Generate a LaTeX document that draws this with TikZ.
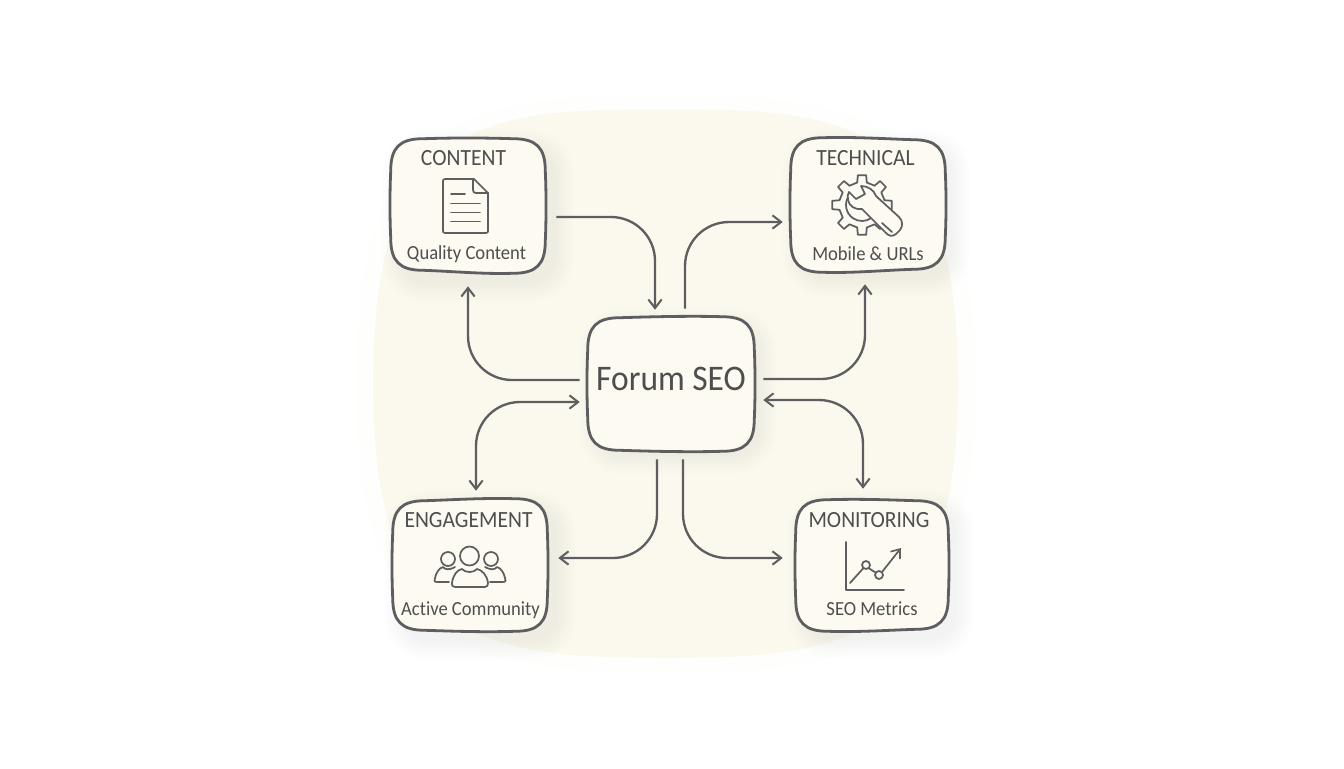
\documentclass[tikz,border=0pt]{standalone}
\usepackage{fontspec}
\setmainfont[FakeStretch=0.93,Ligatures=CommonOff]{Carlito}
\usetikzlibrary{arrows.meta}
\definecolor{blobc}{HTML}{FBF8EE}
\definecolor{boxc}{HTML}{FCFAF1}
\definecolor{inkc}{HTML}{5E5E60}
\definecolor{textc}{HTML}{4E4E4E}
\tikzset{
  anchorbox/.style={rectangle,inner sep=0pt,minimum width=#1*0.75pt},
  conn/.style={draw=inkc,line width=1.75pt,rounded corners=33pt,-{Straight Barb[length=6.5pt,width=10pt,line width=1.5pt]}},
  connboth/.style={conn,{Straight Barb[length=6.5pt,width=10pt,line width=1.5pt]}-{Straight Barb[length=6.5pt,width=10pt,line width=1.5pt]}},
  boxline/.style={draw=inkc,line width=2.1pt,fill=boxc},
  icon/.style={draw=inkc,line width=1.3pt,line join=round,line cap=round},
  title/.style={text=textc,font=\fontsize{17.4pt}{20pt}\selectfont,inner sep=0pt,anchor=base},
  sub/.style={text=textc,font=\fontsize{15pt}{20pt}\selectfont,inner sep=0pt,anchor=base},
}
\newcommand\softshadow[2]{%
  \foreach \i in {0,...,11}{
    \pgfmathsetmacro\g{15-1.7*\i}
    \pgfmathsetmacro\rr{22+\g*0.7}
    \fill[black,opacity=.0055,rounded corners=\rr pt]
      ([shift={(6-\g,6-\g)}]#1.north west) rectangle ([shift={(#2+\g,#2+\g)}]#1.south east);
  }}
\newcommand\squircle[6]{%
  \draw[boxline]
    ([shift={(0,#2+#3)}]#1.north west)
    .. controls +(0,-#2*0.72) and +(-#2*0.72,0) .. ([shift={(#2,#3)}]#1.north west)
    .. controls +(30,-1) and +(-30,-1) .. ([shift={(-#2,#4)}]#1.north east)
    .. controls +(#2*0.72,0) and +(0,-#2*0.72) .. ([shift={(0,#2+#4)}]#1.north east)
    .. controls +(1,20) and +(1,-20) .. ([shift={(0,-#2+#5)}]#1.south east)
    .. controls +(0,#2*0.72) and +(#2*0.72,0) .. ([shift={(-#2,#5)}]#1.south east)
    .. controls +(-30,1) and +(30,1) .. ([shift={(#2,#6)}]#1.south west)
    .. controls +(-#2*0.72,0) and +(0,#2*0.72) .. ([shift={(0,-#2+#6)}]#1.south west)
    .. controls +(-1,-20) and +(-1,20) .. ([shift={(0,#2+#3)}]#1.north west) -- cycle;
}
\begin{document}
\begin{tikzpicture}[x=0.75pt,y=-0.75pt]
\useasboundingbox (0,0) rectangle (1344,768);
\fill[white] (0,0) rectangle (1344,768);
% backdrop
\fill[blobc,opacity=.12] (665,96) .. controls (860,96) and (975,110) .. (975,384) .. controls (975,650) and (860,672) .. (665,672) .. controls (470,672) and (356,650) .. (356,384) .. controls (356,110) and (470,96) .. (665,96) -- cycle;
\fill[blobc] (665,109) .. controls (850,109) and (958,120) .. (958,384) .. controls (958,640) and (850,658) .. (665,658) .. controls (480,658) and (373,640) .. (373,384) .. controls (373,120) and (480,109) .. (665,109) -- cycle;

% nodes
\node[anchorbox=154,minimum height=134*0.75pt] (content) at (468,206) {};
\node[anchorbox=154,minimum height=134*0.75pt] (technical) at (868,205) {};
\node[anchorbox=154,minimum height=132*0.75pt] (engagement) at (470,565) {};
\node[anchorbox=152,minimum height=132*0.75pt] (monitoring) at (872,565) {};
\node[anchorbox=166,minimum height=134*0.75pt] (hub) at (671,384) {};

\softshadow{content}{14}
\softshadow{technical}{10}
\softshadow{engagement}{14}
\softshadow{monitoring}{12}
\softshadow{hub}{8}

\squircle{content}{32}{0}{0}{0}{-3}
\squircle{technical}{32}{0}{2}{-3}{0}
\squircle{engagement}{32}{2}{0}{0}{-1}
\squircle{monitoring}{32}{1}{2}{-2}{0}
\squircle{hub}{32}{1}{0}{0}{-1}

% texts
\node[title] (t1) at (463.5,165) {CONTENT};
\node[sub] (s1) at (466.5,259.5) {Quality Content};
\node[title] (t2) at (865.5,165) {TECHNICAL};
\node[sub] (s2) at (868,260) {Mobile \& URLs};
\node[title] (t3) at (468.5,527) {ENGAGEMENT};
\node[sub] (s3) at (470.5,615) {Active Community};
\node[title] (t4) at (869,527) {MONITORING};
\node[sub] (s4) at (872,615.5) {SEO Metrics};
\node[text=textc,font=\fontsize{27pt}{30pt}\selectfont,inner sep=0pt,anchor=base] (hubtext) at (671,390) {Forum SEO};

% connectors
\draw[conn] ([shift={(11,11)}]content.east) -| ([shift={(-16,-7)}]hub.north);
\draw[conn] ([shift={(14,-8)}]hub.north) |- ([shift={(-8,17)}]technical.west);
\draw[conn] ([shift={(-8,-4)}]hub.west) -| ([shift={(0,13)}]content.south);
\draw[conn] ([shift={(9,-5)}]hub.east) -| ([shift={(-3,12)}]technical.south);
\draw[connboth] ([shift={(6,-8)}]engagement.north) |- ([shift={(-8,18)}]hub.west);
\draw[connboth] ([shift={(9,16)}]hub.east) -| ([shift={(-9,-10)}]monitoring.north);
\draw[conn] ([shift={(-14,8)}]hub.south) |- ([shift={(11,-7)}]engagement.east);
\draw[conn] ([shift={(12,8)}]hub.south) |- ([shift={(-13,-7)}]monitoring.west);

% document icon
\draw[icon] (473,179) -- (445,179) .. controls (443.5,179) and (443,180) .. (443,181) -- (443,231) .. controls (443,232) and (443.5,233) .. (445,233) -- (486,233) .. controls (487.5,233) and (488,232) .. (488,231) -- (488,193) -- (474,179) -- (473,179);
\draw[icon] (473,179) -- (473,190) .. controls (473,192) and (474,193) .. (476,193) -- (488,193);
\draw[icon] (451,194) -- (465,194);
\draw[icon] (451,203.5) -- (480,203.5);
\draw[icon] (451,212.5) -- (480,212.5);
\draw[icon] (451,221.5) -- (480,221.5);

% gear and wrench icon
\begin{scope}[shift={(862,205)}]
\draw[icon,fill=boxc] (-12:23)
  \foreach \a in {0,45,...,315}{
    -- (\a-12:23) -- (\a-8:30) -- (\a+8:30) -- (\a+12:23) -- (\a+33:23)
  } -- cycle;
\draw[icon] (215:16) arc (215:52:16);
\end{scope}
\draw[icon,fill=boxc] (861,186) .. controls (868,186) and (874,190) .. (876,196)
  -- (899,217) .. controls (903,221) and (903,226) .. (900,230)
  -- (896,234) .. controls (892,237) and (889,236) .. (886,233)
  -- (862,209) .. controls (855,210) and (849,206) .. (848,200)
  .. controls (847,197) and (848,194) .. (849,192)
  -- (856,199) -- (865,194) -- cycle;
\draw[icon] (882,223) -- (892,232);

% people icon
\draw[icon] (469.5,556) circle (9.5);
\draw[icon] (448,559) circle (7);
\draw[icon] (491,559) circle (7);
\draw[icon] (455,587) .. controls (452,587) and (451.5,585) .. (452,583) .. controls (453,575) and (457,570) .. (462,569) .. controls (465,573) and (474,573) .. (477,569) .. controls (482,570) and (487,575) .. (488,583) .. controls (488.5,585) and (487,587) .. (485,587) -- cycle;
\draw[icon] (449,582) -- (437,582) .. controls (434,582) and (434,580) .. (435,578) .. controls (436,573) and (439,568) .. (443,567) .. controls (445,570) and (450,570) .. (455,567);
\draw[icon] (490,582) -- (503,582) .. controls (506,582) and (506,580) .. (505,578) .. controls (504,573) and (501,568) .. (497,567) .. controls (495,570) and (490,570) .. (485,567);

% chart icon
\draw[icon] (846,542) -- (846,590) -- (904,590);
\draw[icon] (850,583) -- (863.5,568);
\draw[icon] (868.5,568) -- (875.5,572.5);
\draw[icon,-{Straight Barb[length=6pt,width=9pt,line width=1.25pt]}] (882,572) -- (901,548);
\draw[icon] (866,565) circle (4);
\draw[icon] (879,575) circle (4);
\end{tikzpicture}
\end{document}
